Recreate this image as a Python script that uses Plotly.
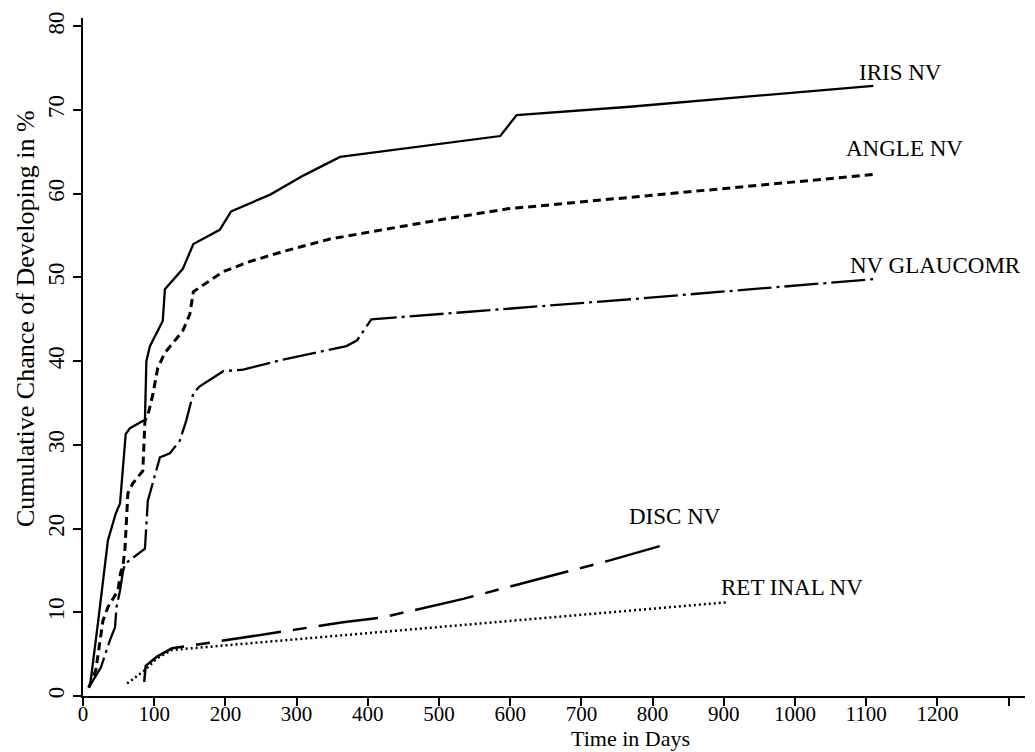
import plotly.graph_objects as go

# ---- data ----
iris_days = [8, 10, 21, 35, 46, 52, 60, 66, 87, 89, 94, 112, 115, 140, 155, 192, 208, 263, 310, 361, 586, 609, 768, 1110]
iris_pct = [1.0, 1.3, 8.7, 18.6, 21.8, 23.0, 31.3, 32.0, 33.0, 40.0, 41.8, 44.8, 48.6, 51.0, 54.0, 55.7, 57.9, 59.9, 62.2, 64.4, 66.9, 69.4, 70.4, 72.9]

angle_days = [8, 18, 28, 35, 49, 53, 56, 59, 63, 70, 84, 87, 91, 98, 105, 115, 140, 150, 155, 169, 197, 234, 281, 347, 488, 596, 769, 1110]
angle_pct = [1.0, 3.1, 9.0, 10.6, 12.6, 14.8, 15.4, 17.7, 24.2, 25.4, 26.9, 32.9, 33.5, 36.0, 39.2, 41.0, 43.6, 45.6, 48.3, 49.1, 50.7, 51.9, 53.1, 54.6, 56.7, 58.2, 59.6, 62.3]

glauc_days = [8, 25, 38, 45, 47, 52, 56, 59, 87, 89, 91, 108, 122, 136, 145, 155, 164, 197, 225, 281, 370, 385, 405, 769, 1110]
glauc_pct = [1.0, 3.4, 6.7, 8.2, 10.6, 12.6, 14.8, 15.8, 17.6, 20.1, 23.3, 28.5, 29.0, 30.5, 32.9, 36.2, 37.0, 38.8, 39.0, 40.2, 41.8, 42.5, 45.0, 47.4, 49.8]

disc_days = [86, 88, 104, 125, 188, 365, 421, 534, 596, 740, 810]
disc_pct = [1.7, 3.6, 4.7, 5.7, 6.5, 8.8, 9.4, 11.6, 13.0, 16.2, 17.9]

ret_days = [62, 87, 104, 125, 207, 740, 905]
ret_pct = [1.5, 3.1, 4.5, 5.5, 6.1, 10.0, 11.2]

x_ticks = [0, 100, 200, 300, 400, 500, 600, 700, 800, 900, 1000, 1100, 1200, 1300]
x_tick_text = ["0", "100", "200", "300", "400", "500", "600", "700", "800", "900", "1000", "1100", "1200", ""]
y_ticks = [0, 10, 20, 30, 40, 50, 60, 70, 80]

labels = ["IRIS NV", "ANGLE NV", "NV GLAUCOMR", "DISC NV", "RET INAL NV"]
label_x = [1087, 1069, 1074, 764, 893]
label_y = [74.5, 65.4, 51.4, 21.4, 13.0]

FONT = "Liberation Serif, Times New Roman, serif"

fig = go.Figure()
fig.add_trace(go.Scatter(x=iris_days, y=iris_pct, mode="lines",
                         line=dict(color="black", width=2.3, dash="solid")))
fig.add_trace(go.Scatter(x=angle_days, y=angle_pct, mode="lines",
                         line=dict(color="black", width=3, dash="8px,5px")))
fig.add_trace(go.Scatter(x=glauc_days, y=glauc_pct, mode="lines",
                         line=dict(color="black", width=2.3, dash="34px,5px,3px,5px")))
fig.add_trace(go.Scatter(x=disc_days, y=disc_pct, mode="lines",
                         line=dict(color="black", width=2.5, dash="60px,12px,14px,12px")))
fig.add_trace(go.Scatter(x=ret_days, y=ret_pct, mode="lines",
                         line=dict(color="black", width=2.5, dash="2px,3px")))

for t, x, y in zip(labels, label_x, label_y):
    fig.add_annotation(x=x, y=y, text=t, showarrow=False, xanchor="left", yanchor="middle",
                       font=dict(family=FONT, size=23, color="black"))

fig.add_annotation(xref="paper", yref="paper", x=-0.0616, y=0.5575,
                   text="Cumulative Chance of Developing in %", textangle=-90, showarrow=False,
                   xanchor="center", yanchor="middle", font=dict(family=FONT, size=26, color="black"))
fig.add_annotation(xref="paper", yref="paper", x=0.5807, y=-0.0634,
                   text="Time in Days", showarrow=False,
                   xanchor="center", yanchor="middle", font=dict(family=FONT, size=22, color="black"))

# page body adds an 8px margin, so the figure is sized/offset to compensate
fig.update_layout(
    width=1027, height=744,
    margin=dict(l=75, r=10, t=10, b=56, autoexpand=False),
    plot_bgcolor="white", paper_bgcolor="white",
    showlegend=False,
    font=dict(family=FONT, color="black"),
)
fig.update_xaxes(range=[0, 1323], tickvals=x_ticks, ticktext=x_tick_text,
                 showgrid=False, zeroline=False, showline=True, linecolor="black", linewidth=2,
                 ticks="outside", ticklen=8, tickwidth=2, tickcolor="black",
                 ticklabelstandoff=-10,
                 tickfont=dict(family=FONT, size=21, color="black"))
fig.update_yaxes(range=[0, 81], tickvals=y_ticks, tickangle=-90,
                 showgrid=False, zeroline=False, showline=True, linecolor="black", linewidth=2,
                 ticks="outside", ticklen=8, tickwidth=2, tickcolor="black",
                 tickfont=dict(family=FONT, size=23, color="black"))

fig.write_html("out.html")
